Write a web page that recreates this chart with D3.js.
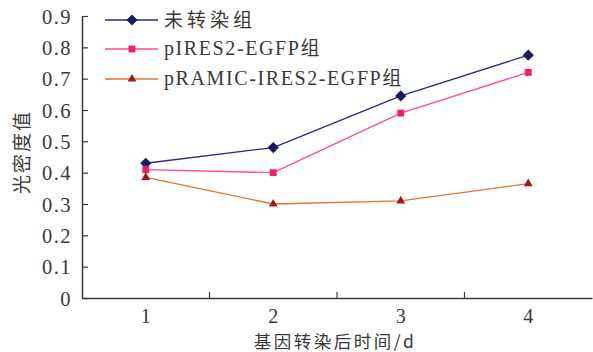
<!DOCTYPE html>
<html><head><meta charset="utf-8">
<script src="https://cdn.jsdelivr.net/npm/d3@7"></script>
<style>body{margin:0;background:#fff}svg{display:block}</style>
</head><body><svg id="c" width="593" height="352"></svg>
<script>
const categories = ["1","2","3","4"];
const seriesNames = ["未转染组","pIRES2-EGFP组","pRAMIC-IRES2-EGFP组"];
const untransfected = [0.43,0.48,0.645,0.775];
const pIRES2 = [0.41,0.40,0.59,0.72];
const pRAMIC = [0.385,0.30,0.31,0.365];
const yTicks = [0,0.1,0.2,0.3,0.4,0.5,0.6,0.7,0.8,0.9];
const yTickLabels = ["0","0.1","0.2","0.3","0.4","0.5","0.6","0.7","0.8","0.9"];

(function(){
const svg = d3.select("#c");
const mLeft=82, mRight=592, mTop=16, mBottom=298;
const x = d3.scaleBand().domain(categories).range([mLeft,mRight]);
const y = d3.scaleLinear().domain([0,0.9]).range([mBottom,mTop]);
const axisColor="#3a3a3a", textColor="#3a3a3a";
const serif="'Liberation Serif','Times New Roman',serif";
const cjk="'Noto Sans CJK SC',sans-serif";

// y axis
const ya = svg.append("g").attr("transform",`translate(${mLeft},0)`)
  .call(d3.axisRight(y).tickValues(yTicks).tickFormat((d,i)=>yTickLabels[i]).tickSize(6).tickSizeOuter(0));
ya.select(".domain").attr("stroke",axisColor).attr("stroke-width",1.5);
ya.selectAll(".tick line").attr("stroke",axisColor).attr("stroke-width",1.2);
ya.selectAll(".tick text").attr("x",-10).attr("text-anchor","end").attr("dy","0.35em")
  .style("font-family",serif).style("font-size","20.5px").style("letter-spacing","1.5px").attr("fill",textColor);

// x axis
const xa = svg.append("g").attr("transform",`translate(0,${mBottom})`)
  .call(d3.axisBottom(x).tickSize(0).tickSizeOuter(0));
xa.select(".domain").attr("stroke",axisColor).attr("stroke-width",1.5);
xa.selectAll(".tick text").attr("y",18).attr("dy","0.35em")
  .style("font-family",serif).style("font-size","20px").attr("fill",textColor);
const bounds = categories.slice(1).map(c=>x(c));
xa.selectAll("line.bt").data(bounds).enter().append("line").attr("class","bt")
  .attr("x1",d=>d).attr("x2",d=>d).attr("y1",0).attr("y2",-6)
  .attr("stroke",axisColor).attr("stroke-width",1.2);

// axis titles
svg.append("text").attr("transform",`translate(22,152) rotate(-90)`).attr("text-anchor","middle")
  .attr("dy","0.35em").attr("letter-spacing",2)
  .attr("font-family",cjk).attr("font-size",19).attr("fill",textColor).text("光密度值");
svg.append("text").attr("x",335).attr("y",342).attr("dy","0.35em").attr("text-anchor","middle").attr("letter-spacing",2.5)
  .attr("font-family",cjk).attr("font-size",17.5).attr("fill",textColor).text("基因转染后时间/d");

const series = [
  {name:seriesNames[0], values:untransfected, line:"#2a2a80", fill:"#1a1a5e", sym:d3.symbolDiamond2, size:80},
  {name:seriesNames[1], values:pIRES2, line:"#ff4a88", fill:"#f0206a", sym:d3.symbolSquare2, size:60},
  {name:seriesNames[2], values:pRAMIC, line:"#e8703a", fill:"#a01818", sym:d3.symbolTriangle2, size:55},
];
const cx = c=>x(c)+x.bandwidth()/2;
const line = d3.line().x((d,i)=>cx(categories[i])).y(d=>y(d));
series.forEach(s=>{
  svg.append("path").attr("d",line(s.values)).attr("fill","none").attr("stroke",s.line).attr("stroke-width",1.3);
  svg.selectAll(null).data(s.values).enter().append("path")
    .attr("d",d3.symbol().type(s.sym).size(s.size)())
    .attr("transform",(d,i)=>`translate(${cx(categories[i])},${y(d)})`).attr("fill",s.fill);
});

// legend
const lg = svg.append("g");
const rowsY=[20,49,79];
series.forEach((s,i)=>{
  lg.append("line").attr("x1",105).attr("x2",158).attr("y1",rowsY[i]).attr("y2",rowsY[i]).attr("stroke",s.line).attr("stroke-width",1.3);
  lg.append("path").attr("d",d3.symbol().type(s.sym).size(s.size)()).attr("transform",`translate(132,${rowsY[i]})`).attr("fill",s.fill);
  const t = lg.append("text").attr("x",164).attr("y",rowsY[i]).attr("dy","0.35em").attr("fill",textColor);
  const m = s.name.match(/^(.*?)(组)$/);
  if(i===0){ t.attr("font-family",cjk).attr("font-size",19).attr("letter-spacing",4).text(s.name); }
  else { t.append("tspan").attr("font-family",serif).attr("font-size",20).attr("letter-spacing",1.6).text(m[1]);
         t.append("tspan").attr("font-family",cjk).attr("font-size",19).text(m[2]); }
});
})();
</script></body></html>
